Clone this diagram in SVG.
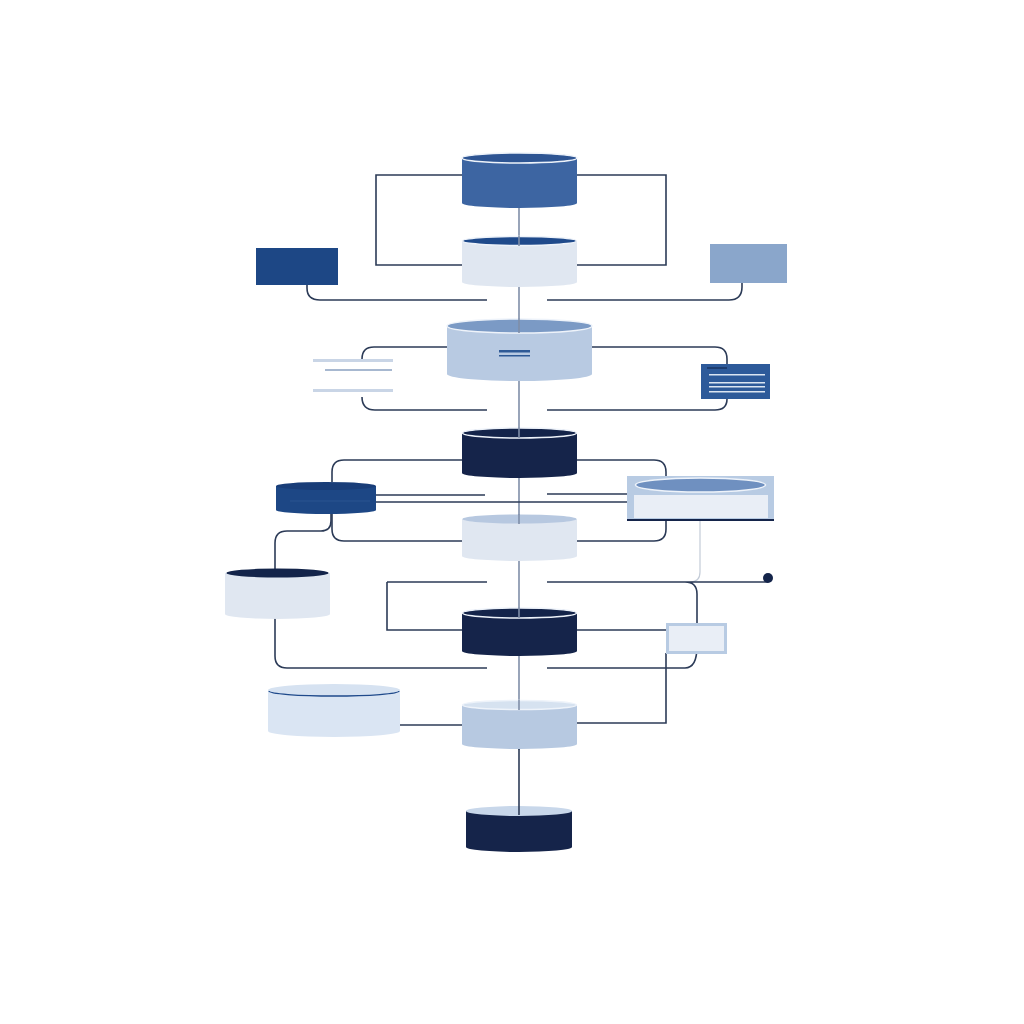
<svg xmlns="http://www.w3.org/2000/svg" width="1024" height="1024" viewBox="0 0 1024 1024">
<style>
.c{fill:none;stroke:#2c3b57;stroke-width:1.6}
.v{fill:none;stroke:#7f8ea8;stroke-width:1.6}
.cl{fill:none;stroke:#c4ccd8;stroke-width:1.2}
.rim{stroke:#eef3fa;stroke-width:1.5}
</style>
<rect width="1024" height="1024" fill="#ffffff"/>
<g id="connectors">
<path class="v" d="M519 205 V750"/>
<path class="c" d="M519 748 V812"/>
<path class="c" d="M462 175 H376 V265 H462 M577 175 H666 V265 H577"/>
<path class="c" d="M307 285 V288 Q307 300 320 300 H487 M742 283 V287 Q742 300 729 300 H547"/>
<path class="c" d="M447 347 H374 Q362 347 362 359 M362 397 Q362 410 375 410 H487"/>
<path class="c" d="M592 347 H715 Q727 347 727 359 V364 M727 399 Q727 410 715 410 H547"/>
<path class="c" d="M462 460 H344 Q332 460 332 472 V482 M332 514 V529 Q332 541 344 541 H462"/>
<path class="c" d="M577 460 H654 Q666 460 666 472 V476 M666 520 V529 Q666 541 654 541 H577"/>
<path class="c" d="M376 495 H485 M376 502 H627 M547 494 H627"/>
<path class="c" d="M331 514 V521 Q331 531 321 531 H287 Q275 531 275 543 V570"/>
<path class="c" d="M275 618 V656 Q275 668 287 668 H487"/>
<path class="cl" d="M700 520 V572 Q700 582 690 582"/>
<path class="c" d="M387 582 H487 M387 582 V630 H462"/>
<path class="c" d="M547 582 H768 M685 582 Q697 582 697 594 V646 Q697 668 685 668 H547"/>
<circle cx="768" cy="578" r="5" fill="#14244a"/>
<path class="c" d="M577 630 H666 M666 653 V723 H577"/>
<path class="c" d="M400 725 H462"/>
</g>
<g id="n1">
<path d="M462 158 V203 A57.5 5 0 0 0 577 203 V158 Z" fill="#3d65a2"/>
<ellipse cx="519.5" cy="158" rx="57.5" ry="5" fill="#2e5593" class="rim"/>
</g>
<g id="n2">
<path d="M462 241 V282 A57.5 5 0 0 0 577 282 V241 Z" fill="#e0e7f1"/>
<ellipse cx="519.5" cy="241" rx="57" ry="4.5" fill="#1f4a8b" class="rim"/>
<path class="v" d="M519 236 V246"/>
</g>
<g id="boxL">
<rect x="256" y="248" width="82" height="37" fill="#1d4785"/>
</g>
<g id="boxR">
<rect x="710" y="244" width="77" height="39" fill="#8aa6cb"/>
</g>
<g id="n3">
<path d="M447 326 V374 A72.5 7 0 0 0 592 374 V326 Z" fill="#b8cae2"/>
<ellipse cx="519.5" cy="326" rx="72.5" ry="7" fill="#7b9ac5" class="rim"/>
<path class="v" d="M519 318 V333"/>
<rect x="499" y="350" width="31" height="2.5" fill="#2f5a96"/>
<rect x="499" y="355" width="31" height="1.5" fill="#2f5a96"/>
</g>
<g id="textlines">
<rect x="313" y="359" width="80" height="3" fill="#c9d5e6"/>
<rect x="325" y="369" width="67" height="2" fill="#a7b8d0"/>
<rect x="313" y="389" width="80" height="3" fill="#c9d5e6"/>
</g>
<g id="boxNote">
<rect x="701" y="364" width="69" height="35" fill="#2d5a9a"/>
<rect x="707" y="367" width="20" height="2" fill="#1d3d70"/>
<rect x="709" y="374" width="56" height="1.5" fill="#dbe5f2"/>
<rect x="709" y="382" width="56" height="1.5" fill="#dbe5f2"/>
<rect x="709" y="386" width="56" height="1.5" fill="#dbe5f2"/>
<rect x="709" y="391" width="56" height="1.5" fill="#dbe5f2"/>
</g>
<g id="n4">
<path d="M462 433 V473 A57.5 5 0 0 0 577 473 V433 Z" fill="#15244a"/>
<ellipse cx="519.5" cy="433" rx="57" ry="5" fill="#14244a" class="rim"/>
<path class="v" d="M519 427 V438"/>
</g>
<g id="L1">
<path d="M276 486 V510 A50 4 0 0 0 376 510 V486 Z" fill="#1d4785"/>
<ellipse cx="326" cy="486" rx="50" ry="4" fill="#193d78"/>
<path d="M290 501 H370" stroke="#2a5490" stroke-width="1"/>
</g>
<g id="boxWide">
<rect x="627" y="476" width="147" height="44" fill="#b8cbe3"/>
<rect x="634" y="495" width="134" height="23" fill="#e9eef6"/>
<ellipse cx="700.5" cy="485" rx="65" ry="7" fill="#6f90c0" class="rim"/>
<path d="M627 520 H774" stroke="#14244a" stroke-width="2"/>
</g>
<g id="n5">
<path d="M462 519 V556 A57.5 5 0 0 0 577 556 V519 Z" fill="#e0e7f1"/>
<ellipse cx="519.5" cy="519" rx="57" ry="4.5" fill="#b7c8e0"/>
<path class="v" d="M519 514 V524"/>
</g>
<g id="L2">
<path d="M225 573 V614 A52.5 5 0 0 0 330 614 V573 Z" fill="#e0e7f1"/>
<ellipse cx="277.5" cy="573" rx="51" ry="4.5" fill="#13244a"/>
</g>
<g id="n6">
<path d="M462 613 V651 A57.5 5 0 0 0 577 651 V613 Z" fill="#15244a"/>
<ellipse cx="519.5" cy="613" rx="57" ry="5" fill="#14244a" class="rim"/>
<path class="v" d="M519 607 V618"/>
</g>
<g id="boxSmall">
<rect x="667.5" y="624.5" width="58" height="28" fill="#e9eef6" stroke="#b8cbe3" stroke-width="3"/>
</g>
<g id="L3">
<path d="M268 690 V731 A66 6 0 0 0 400 731 V690 Z" fill="#dae5f3"/>
<ellipse cx="334" cy="690" rx="66" ry="6" fill="#d6e2f1"/>
<path d="M269 691 A65 5 0 0 0 399 691" fill="none" stroke="#1f4a8b" stroke-width="1.3"/>
</g>
<g id="n7">
<path d="M462 705 V744 A57.5 5 0 0 0 577 744 V705 Z" fill="#b7c9e1"/>
<ellipse cx="519.5" cy="705" rx="57" ry="4.5" fill="#d6e2f0" class="rim"/>
<path class="v" d="M519 700 V710"/>
</g>
<g id="n8">
<path d="M466 811 V847 A53 5 0 0 0 572 847 V811 Z" fill="#15244a"/>
<ellipse cx="519" cy="811" rx="53" ry="5" fill="#c8d7ea"/>
<path d="M519 806 V815" stroke="#2c3b57" stroke-width="1.6"/>
</g>
</svg>
